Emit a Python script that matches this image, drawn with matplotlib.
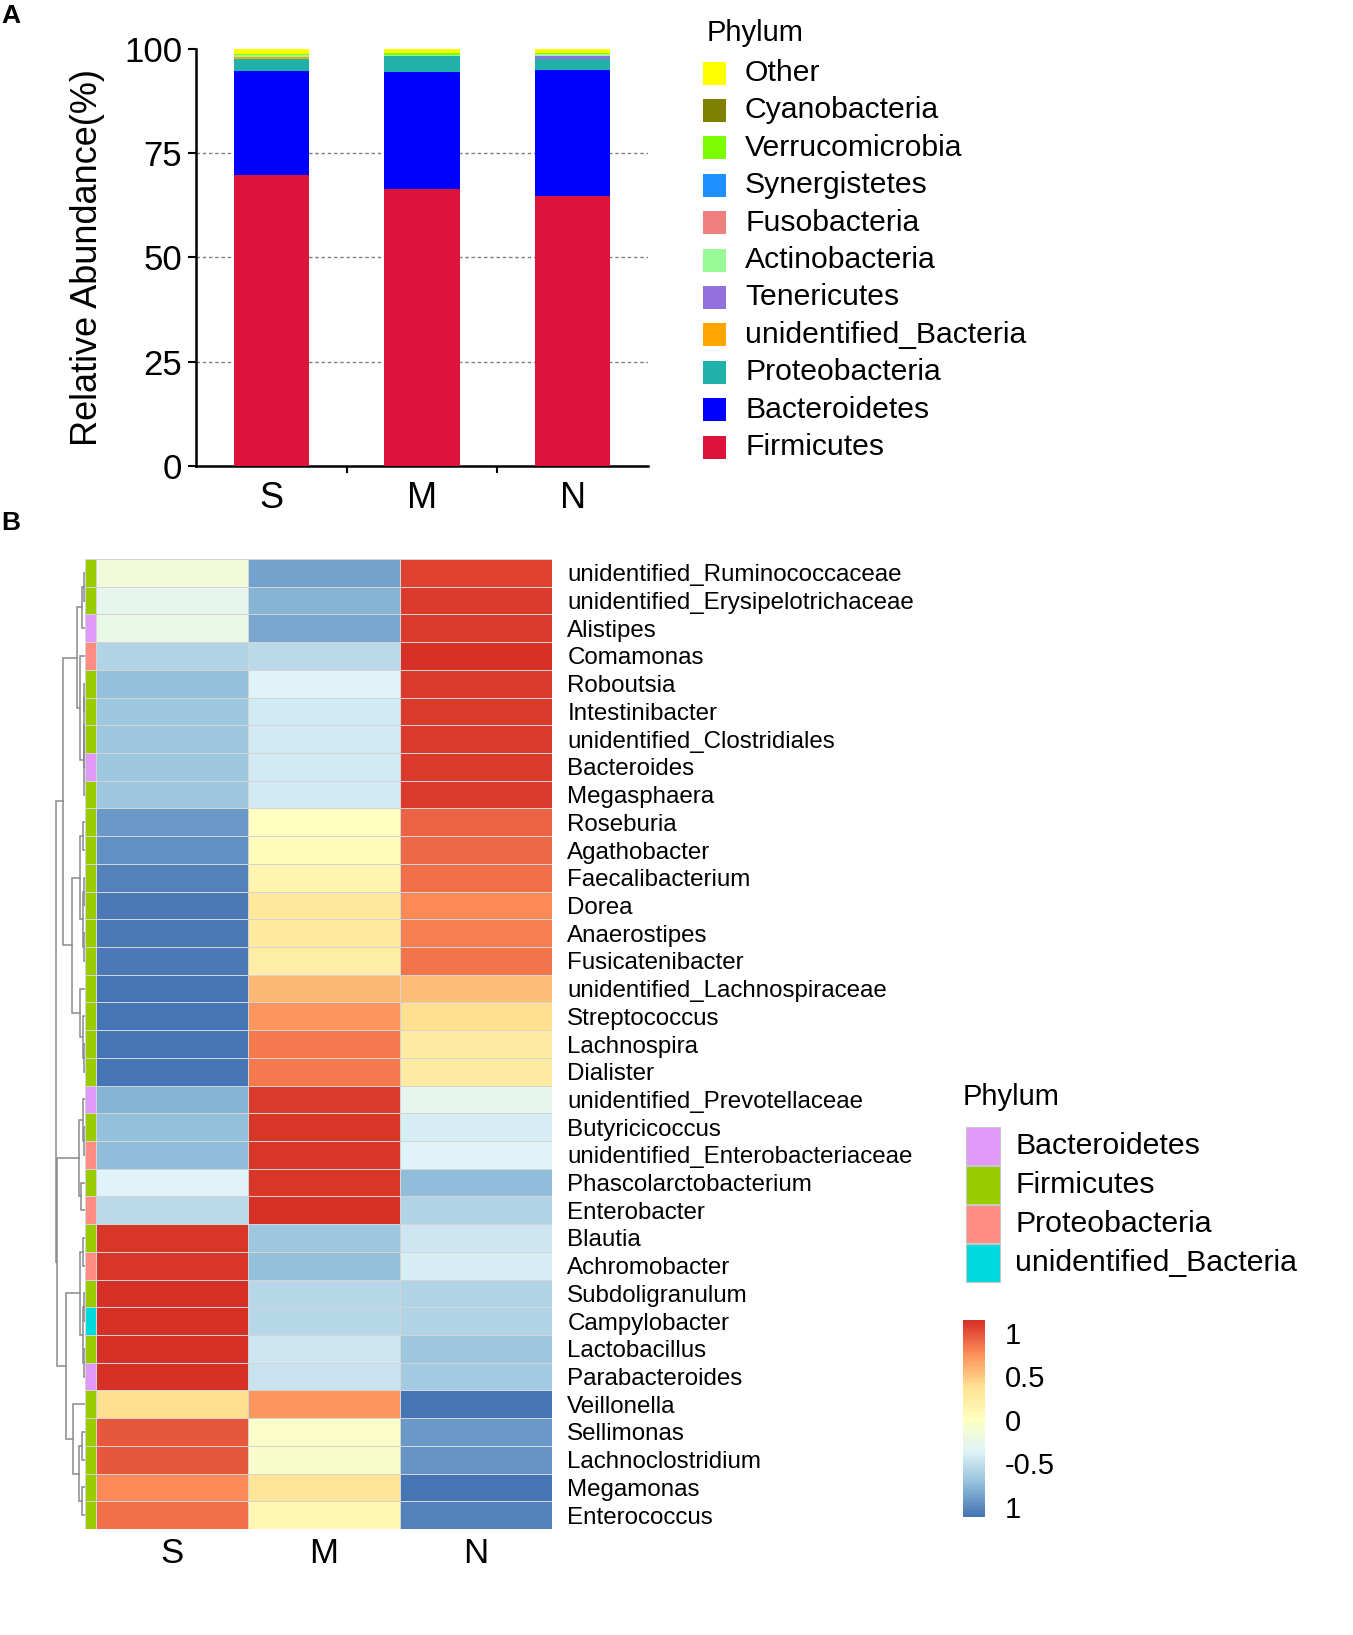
import numpy as np
import matplotlib
matplotlib.use('Agg')
import matplotlib.pyplot as plt
from matplotlib.colors import LinearSegmentedColormap, ListedColormap
from matplotlib.patches import Rectangle

plt.rcParams['font.family'] = ['Liberation Sans', 'DejaVu Sans']

W, H = 1353, 1635

# ---------------- Panel A data ----------------
samples = ['S', 'M', 'N']
phyla = ['Firmicutes', 'Bacteroidetes', 'Proteobacteria', 'unidentified_Bacteria',
         'Tenericutes', 'Actinobacteria', 'Fusobacteria', 'Synergistetes',
         'Verrucomicrobia', 'Cyanobacteria', 'Other']
abund_S = [69.8, 25.0, 2.7, 0.6, 0.1, 0.3, 0.05, 0.05, 0.2, 0.1, 1.1]
abund_M = [66.4, 28.0, 3.9, 0.05, 0.05, 0.05, 0.02, 0.03, 0.6, 0.05, 0.85]
abund_N = [64.7, 30.3, 2.5, 0.1, 0.8, 0.3, 0.1, 0.1, 0.1, 0.1, 0.9]
phylum_colors = ['#DC143C', '#0000FF', '#20B2AA', '#FFA500', '#9370DB', '#98FB98',
                 '#F08080', '#1E90FF', '#7CFC00', '#808000', '#FFFF00']

# ---------------- Panel B data ----------------
genera = ['unidentified_Ruminococcaceae', 'unidentified_Erysipelotrichaceae', 'Alistipes',
          'Comamonas', 'Roboutsia', 'Intestinibacter', 'unidentified_Clostridiales',
          'Bacteroides', 'Megasphaera', 'Roseburia', 'Agathobacter', 'Faecalibacterium',
          'Dorea', 'Anaerostipes', 'Fusicatenibacter', 'unidentified_Lachnospiraceae',
          'Streptococcus', 'Lachnospira', 'Dialister', 'unidentified_Prevotellaceae',
          'Butyricicoccus', 'unidentified_Enterobacteriaceae', 'Phascolarctobacterium',
          'Enterobacter', 'Blautia', 'Achromobacter', 'Subdoligranulum', 'Campylobacter',
          'Lactobacillus', 'Parabacteroides', 'Veillonella', 'Sellimonas',
          'Lachnoclostridium', 'Megamonas', 'Enterococcus']
genus_phylum = ['Firmicutes', 'Firmicutes', 'Bacteroidetes', 'Proteobacteria', 'Firmicutes',
                'Firmicutes', 'Firmicutes', 'Bacteroidetes', 'Firmicutes', 'Firmicutes',
                'Firmicutes', 'Firmicutes', 'Firmicutes', 'Firmicutes', 'Firmicutes',
                'Firmicutes', 'Firmicutes', 'Firmicutes', 'Firmicutes', 'Bacteroidetes',
                'Firmicutes', 'Proteobacteria', 'Firmicutes', 'Proteobacteria', 'Firmicutes',
                'Proteobacteria', 'Firmicutes', 'unidentified_Bacteria', 'Firmicutes',
                'Bacteroidetes', 'Firmicutes', 'Firmicutes', 'Firmicutes', 'Firmicutes',
                'Firmicutes']
heat_S = [-0.15, -0.30, -0.25, -0.58, -0.72, -0.68, -0.68, -0.68, -0.68, -0.93,
          -0.98, -1.03, -1.08, -1.08, -1.08, -1.12, -1.10, -1.10, -1.10, -0.80,
          -0.72, -0.75, -0.37, -0.55, 1.12, 1.12, 1.15, 1.15, 1.13, 1.13,
          0.40, 0.98, 0.98, 0.77, 0.88]
heat_M = [-0.88, -0.80, -0.85, -0.55, -0.37, -0.42, -0.42, -0.42, -0.42, 0.00,
          0.06, 0.15, 0.30, 0.27, 0.22, 0.58, 0.73, 0.85, 0.85, 1.10,
          1.12, 1.12, 1.12, 1.14, -0.67, -0.72, -0.57, -0.57, -0.45, -0.47,
          0.72, -0.05, -0.07, 0.35, 0.12]
heat_N = [1.07, 1.10, 1.10, 1.13, 1.09, 1.10, 1.10, 1.10, 1.10, 0.93,
          0.92, 0.88, 0.78, 0.81, 0.86, 0.55, 0.38, 0.25, 0.25, -0.30,
          -0.40, -0.37, -0.75, -0.58, -0.45, -0.40, -0.58, -0.58, -0.68, -0.66,
          -1.12, -0.93, -0.95, -1.10, -1.03]
annot_phyla = ['Bacteroidetes', 'Firmicutes', 'Proteobacteria', 'unidentified_Bacteria']
annot_colors = ['#E199F7', '#99CC00', '#FF8C80', '#00D9DE']
# row-dendrogram merges: (child_a, child_b, height); leaves 0..34, clusters 35..
linkage = [
    (0, 1, 3), (35, 2, 8), (4, 5, 2), (6, 7, 2), (37, 38, 3), (39, 8, 4),
    (3, 40, 13), (36, 41, 23), (9, 10, 5), (11, 12, 3), (13, 14, 3), (44, 45, 6),
    (43, 46, 15), (17, 18, 2), (16, 48, 7), (15, 49, 15), (47, 50, 38), (42, 51, 63),
    (20, 21, 4), (19, 53, 6), (22, 23, 10), (54, 55, 18), (24, 25, 5), (26, 27, 2),
    (28, 29, 2), (58, 59, 5), (57, 60, 13), (31, 32, 8), (33, 34, 8), (62, 63, 18),
    (30, 64, 33), (61, 65, 53), (56, 66, 80), (52, 67, 83)]
cbar_ticks = [1, 0.5, 0, -0.5, -1]
cbar_labels = ['1', '0.5', '0', '-0.5', '1']
heat_palette = ['#4575B4', '#91BFDB', '#E0F3F8', '#FFFFBF', '#FEE090', '#FC8D59', '#D73027']

fig = plt.figure(figsize=(W / 100, H / 100), dpi=100)


def axpx(l, t, r, b):
    return fig.add_axes([l / W, 1 - b / H, (r - l) / W, (b - t) / H])


# overlay for free text / legends
ov = axpx(0, 0, W, H)
ov.set_xlim(0, W)
ov.set_ylim(H, 0)
ov.axis('off')

# ---------------- Panel A: stacked bars ----------------
ax = axpx(196, 49, 648, 466)
xs = np.arange(len(samples))
bottom = np.zeros(len(samples))
for i, ph in enumerate(phyla):
    vals = np.array([abund_S[i], abund_M[i], abund_N[i]])
    ax.bar(xs, vals, bottom=bottom, width=0.5, color=phylum_colors[i], linewidth=0, zorder=3)
    bottom += vals
ax.set_xlim(-0.5, 2.5)
ax.set_ylim(0, 100)
ax.set_yticks([0, 25, 50, 75, 100])
for yv in [25, 50, 75]:
    ax.axhline(yv, color='#808080', lw=1.0, ls=(0, (2.5, 2)), zorder=1)
ax.set_xticks(xs)
ax.set_xticklabels(samples)
ax.set_xticks([0.5, 1.5], minor=True)
ax.tick_params(axis='x', which='major', length=0, labelsize=26, pad=11)
ax.tick_params(axis='x', which='minor', length=5, width=1.5)
ax.tick_params(axis='y', length=6, width=1.5, labelsize=25, pad=4)
for s in ['top', 'right']:
    ax.spines[s].set_visible(False)
for s in ['left', 'bottom']:
    ax.spines[s].set_linewidth(1.8)
ax.set_ylabel('Relative Abundance(%)', fontsize=26, labelpad=14)

# legend A
ov.text(707, 33, 'Phylum', fontsize=21, va='center', ha='left')
for i, ph in enumerate(list(reversed(phyla))):
    y = 73 + i * 37.4
    col = list(reversed(phylum_colors))[i]
    ov.add_patch(Rectangle((703, y - 11.5), 23, 23, facecolor=col, edgecolor='none'))
    ov.text(745, y, ph, fontsize=21.7, va='center', ha='left')

ov.text(1, 16, 'A', fontsize=19, fontweight='bold', va='center', ha='left')
ov.text(1, 523, 'B', fontsize=19, fontweight='bold', va='center', ha='left')

# ---------------- Panel B: heatmap ----------------
data = np.column_stack([heat_S, heat_M, heat_N])
n = len(genera)
cmap = LinearSegmentedColormap.from_list('rdylbu_r', heat_palette, N=100)
hax = axpx(96, 559, 552, 1529)
mesh = hax.pcolormesh(np.arange(4), np.arange(n + 1), data, cmap=cmap,
                      vmin=data.min(), vmax=data.max(),
                      edgecolors='#d4d4d4', linewidth=0.7)
hax.set_xlim(0, 3)
hax.set_ylim(n, 0)
hax.set_xticks(np.arange(3) + 0.5)
hax.set_xticklabels(samples)
hax.yaxis.tick_right()
hax.set_yticks(np.arange(n) + 0.5)
hax.set_yticklabels(genera)
hax.tick_params(axis='y', length=0, labelsize=17.4, pad=11)
hax.tick_params(axis='x', length=0, labelsize=25, pad=6)
for s in hax.spines.values():
    s.set_visible(False)

# annotation column
aax = axpx(85, 559, 96, 1529)
codes = np.array([annot_phyla.index(p) for p in genus_phylum])[:, None]
aax.pcolormesh(np.arange(2), np.arange(n + 1), codes, cmap=ListedColormap(annot_colors),
               vmin=-0.5, vmax=len(annot_phyla) - 0.5, edgecolors='#d4d4d4', linewidth=0.7)
aax.set_xlim(0, 1)
aax.set_ylim(n, 0)
aax.axis('off')

# dendrogram
dax = axpx(54, 559, 85, 1529)
pos = {i: (0.0, i + 0.5) for i in range(n)}
for k, (a, b, h) in enumerate(linkage):
    ha, ya = pos[a]
    hb, yb = pos[b]
    dax.plot([ha, h, h, hb], [ya, ya, yb, yb], color='#8a8a8a', lw=1.1,
             solid_joinstyle='miter')
    pos[n + k] = (h, (ya + yb) / 2)
dax.set_xlim(88, 0)
dax.set_ylim(n, 0)
dax.axis('off')

# legend B
ov.text(963, 1097, 'Phylum', fontsize=21, va='center', ha='left')
for i, ph in enumerate(annot_phyla):
    y = 1146 + i * 39
    ov.add_patch(Rectangle((966, y - 19), 34, 38, facecolor=annot_colors[i],
                           edgecolor='#c8c8c8', lw=0.8))
    ov.text(1015, y, ph, fontsize=21.8, va='center', ha='left')

# colorbar
cax = axpx(963, 1320, 985, 1517)
cb = fig.colorbar(mesh, cax=cax)
cb.outline.set_visible(False)
cb.set_ticks(cbar_ticks)
cb.set_ticklabels(cbar_labels)
cax.tick_params(length=0, labelsize=21, pad=14)

fig.savefig('out.png', dpi=100)
